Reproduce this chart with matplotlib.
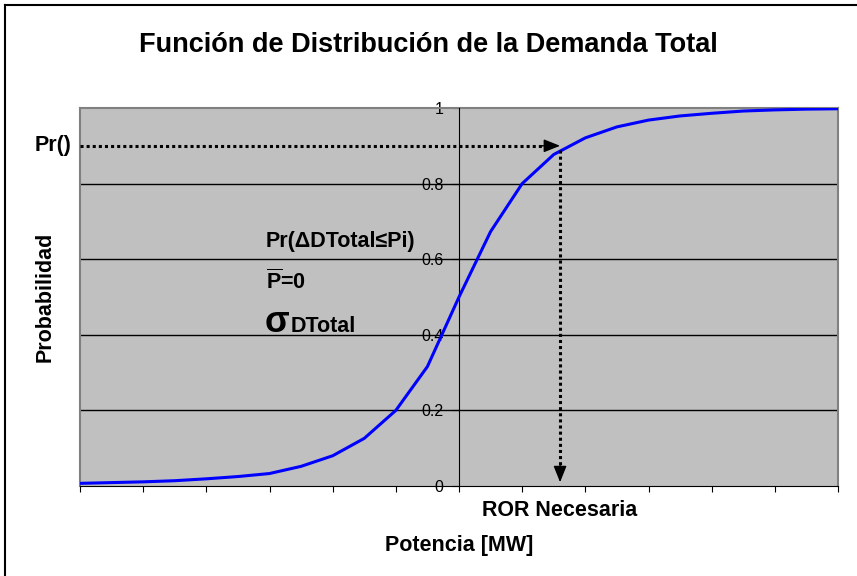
import matplotlib
matplotlib.use('Agg')
import matplotlib.pyplot as plt
from matplotlib.lines import Line2D

plt.rcParams['font.family'] = ['Liberation Sans', 'DejaVu Sans']
plt.rcParams['mathtext.fontset'] = 'custom'
plt.rcParams['mathtext.rm'] = 'Liberation Sans'
plt.rcParams['mathtext.bf'] = 'Liberation Sans:bold'

# datos (25 puntos, eje de probabilidad en el punto central)
puntos = list(range(25))
probabilidad = [0.007, 0.009, 0.011, 0.014, 0.019, 0.025, 0.033, 0.052, 0.08, 0.126,
                0.2, 0.316, 0.5, 0.673, 0.8, 0.877, 0.921, 0.95, 0.968, 0.979,
                0.986, 0.992, 0.995, 0.997, 0.998]
y_ticks = [0, 0.2, 0.4, 0.6, 0.8, 1.0]
y_labels = ['0', '0.2', '0.4', '0.6', '0.8', '1']
x_ticks = list(range(0, 25, 2))
pr_nivel = 0.9      # Pr()
ror_x = 15.2        # ROR Necesaria

W, H = 857, 576
fig = plt.figure(figsize=(W / 100, H / 100), dpi=100)
ax = fig.add_axes([80 / W, 90 / H, 758 / W, 378 / H])
ax.set_facecolor('#C0C0C0')

ax.plot(puntos, probabilidad, color='#0000FF', lw=2.2, zorder=4)

ax.set_xlim(0, 24)
ax.set_ylim(0, 1)
for v in y_ticks[1:-1]:
    ax.axhline(v, color='black', lw=1, zorder=2)

ax.spines['left'].set_position(('data', 12))
ax.spines['left'].set_color('black')
ax.spines['left'].set_zorder(3)
ax.spines['bottom'].set_color('black')
for s in ['top', 'right']:
    ax.spines[s].set_color('#808080')
    ax.spines[s].set_linewidth(1.5)

ax.set_yticks(y_ticks)
ax.set_yticklabels(y_labels)
ax.tick_params(axis='y', direction='out', length=5, pad=6, labelsize=11.5, zorder=5)
ax.set_xticks(x_ticks)
ax.set_xticklabels([])
ax.tick_params(axis='x', direction='out', length=4)

# la borde izquierda del area gris
ax.add_line(Line2D([0, 0], [0, 1], color='#808080', lw=1.5, transform=ax.transAxes, clip_on=False))

# flechas punteadas
ax.plot([0, ror_x - 0.55], [pr_nivel, pr_nivel], color='black', lw=2.2,
        linestyle=(0, (1, 1)), dash_capstyle='butt', zorder=5)
ax.plot([ror_x, ror_x], [pr_nivel - 0.01, 0.05], color='black', lw=2.2,
        linestyle=(0, (1, 1)), dash_capstyle='butt', zorder=5)
ax.annotate('', xy=(ror_x, pr_nivel), xytext=(ror_x - 0.6, pr_nivel),
            arrowprops=dict(arrowstyle='-|>,head_length=1.0,head_width=0.4',
                            color='black', lw=1, shrinkA=0, shrinkB=0), zorder=6)
ax.annotate('', xy=(ror_x, 0.01), xytext=(ror_x, 0.06),
            arrowprops=dict(arrowstyle='-|>,head_length=1.0,head_width=0.4',
                            color='black', lw=1, shrinkA=0, shrinkB=0), zorder=6)

# textos
fs = 15.5
fig.text(428 / W, 1 - 45 / H, 'Función de Distribución de la Demanda Total',
         ha='center', va='center', fontsize=19.5, fontweight='bold')
fig.text(45 / W, 1 - 297 / H, 'Probabilidad', rotation=90, ha='center', va='center',
         fontsize=fs, fontweight='bold')
fig.text(459 / W, 1 - 545 / H, 'Potencia [MW]', ha='center', va='center',
         fontsize=fs, fontweight='bold')
ax.text(ror_x, -0.065, 'ROR Necesaria', ha='center', va='center',
        fontsize=fs, fontweight='bold')
fig.text(72 / W, 1 - 146 / H, 'Pr()', ha='right', va='center',
         fontsize=fs, fontweight='bold')
fig.text(266 / W, 1 - 241 / H, 'Pr(ΔDTotal≤Pi)', ha='left', va='center',
         fontsize=fs, fontweight='bold')
fig.text(266 / W, 1 - 289 / H, r'$\mathbf{\overline{P}}$=0', ha='left', va='baseline',
         fontsize=fs, fontweight='bold')
fig.text(265 / W, 1 - 332 / H, 'σ', ha='left', va='baseline',
         fontsize=26, fontweight='bold')
fig.text(291 / W, 1 - 332 / H, 'DTotal', ha='left', va='baseline',
         fontsize=fs, fontweight='bold')

# marco de la figura
fig.add_artist(Line2D([5 / W, 5 / W], [0, 1 - 5 / H], color='black', lw=1.5))
fig.add_artist(Line2D([5 / W, 1], [1 - 5 / H, 1 - 5 / H], color='black', lw=1.5))

fig.savefig('out.png', dpi=100)
